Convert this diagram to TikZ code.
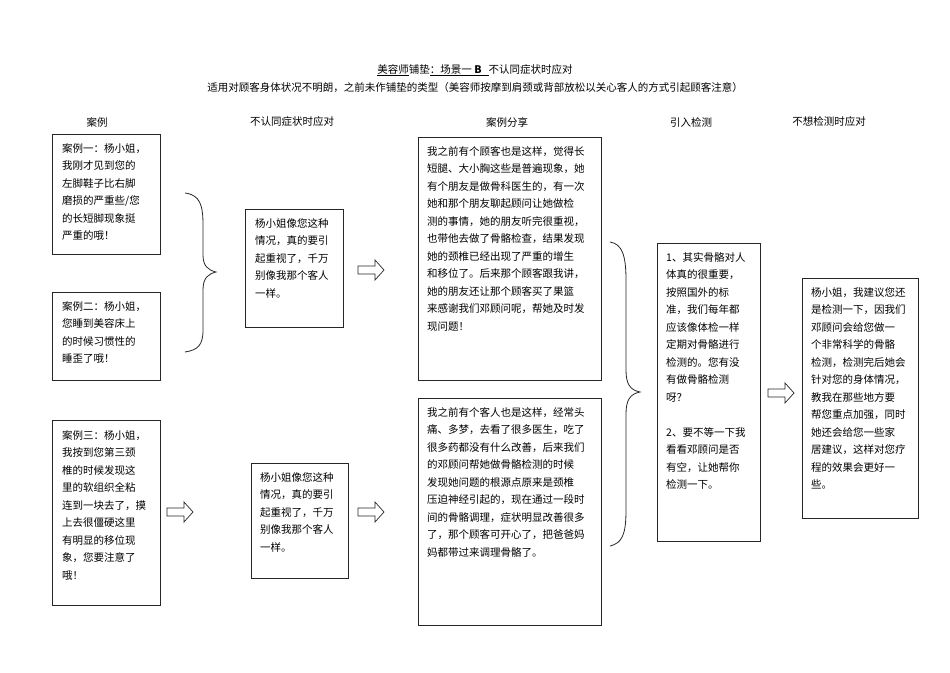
\documentclass[tikz,border=0pt]{standalone}
\usepackage{fontspec}
\setmainfont{Noto Sans CJK SC}
\XeTeXlinebreaklocale "zh"
\begin{document}
\begin{tikzpicture}[x=1pt,y=-1pt,
  box/.style={draw=black!85,line width=0.8pt,anchor=north west,inner sep=0pt},
  txt/.style={anchor=north west,inner sep=0pt,align=left,font=\fontsize{10.5}{17.5}\selectfont},
  hd/.style={font=\fontsize{10.5}{13}\selectfont,inner sep=0pt},
  harrow/.style={draw=black!85,line width=0.7pt,fill=white},
  brace/.style={draw=black!85,line width=0.8pt}]
\useasboundingbox (0,0) rectangle (950,672);
% titles
\node[hd] (t1) at (475,70) {\underline{美容师}铺垫\underline{：场景一 \textbf{B}\ \ \ }不认同症状时应对};
\node[hd] (t2) at (475,88) {适用对顾客身体状况不明朗，之前未作铺垫的类型（美容师按摩到肩颈或背部放松以关心客人的方式引起顾客注意）};
\node[hd] (h1) at (97,122) {案例};
\node[hd] (h2) at (292,122) {不认同症状时应对};
\node[hd] (h3) at (507,122) {案例分享};
\node[hd] (h4) at (691,122) {引入检测};
\node[hd] (h5) at (829,122) {不想检测时应对};
% boxes
\node[box,minimum width=108,minimum height=120] (c1) at (52,134) {};
\node[txt] (c1t) at (62,143) {案例一：杨小姐，\\我刚才见到您的\\左脚鞋子比右脚\\磨损的严重些/您\\的长短脚现象挺\\严重的哦！};
\node[box,minimum width=108,minimum height=88] (c2) at (52,292) {};
\node[txt] (c2t) at (62,301) {案例二：杨小姐，\\您睡到美容床上\\的时候习惯性的\\睡歪了哦！};
\node[box,minimum width=108,minimum height=185] (c3) at (52,420) {};
\node[txt] (c3t) at (62,430) {案例三：杨小姐，\\我按到您第三颈\\椎的时候发现这\\里的软组织全粘\\连到一块去了，摸\\上去很僵硬这里\\有明显的移位现\\象，您要注意了\\哦！};
\node[box,minimum width=98,minimum height=118] (r1) at (245,209) {};
\node[txt] (r1t) at (255,218) {杨小姐像您这种\\情况，真的要引\\起重视了，千万\\别像我那个客人\\一样。};
\node[box,minimum width=97,minimum height=115] (r2) at (251,463) {};
\node[txt] (r2t) at (260,472) {杨小姐像您这种\\情况，真的要引\\起重视了，千万\\别像我那个客人\\一样。};
\node[box,minimum width=183,minimum height=243] (s1) at (418,137) {};
\node[txt] (s1t) at (427,146) {我之前有个顾客也是这样，觉得长\\短腿、大小胸这些是普遍现象，她\\有个朋友是做骨科医生的，有一次\\她和那个朋友聊起顾问让她做检\\测的事情，她的朋友听完很重视，\\也带他去做了骨骼检查，结果发现\\她的颈椎已经出现了严重的增生\\和移位了。后来那个顾客跟我讲，\\她的朋友还让那个顾客买了果篮\\来感谢我们邓顾问呢，帮她及时发\\现问题！};
\node[box,minimum width=183,minimum height=227] (s2) at (418,398) {};
\node[txt] (s2t) at (427,407) {我之前有个客人也是这样，经常头\\痛、多梦，去看了很多医生，吃了\\很多药都没有什么改善，后来我们\\的邓顾问帮她做骨骼检测的时候\\发现她问题的根源点原来是颈椎\\压迫神经引起的，现在通过一段时\\间的骨骼调理，症状明显改善很多\\了，那个顾客可开心了，把爸爸妈\\妈都带过来调理骨骼了。};
\node[box,minimum width=103,minimum height=298] (i1) at (657,243) {};
\node[txt] (i1t) at (666,252) {1、其实骨骼对人\\体真的很重要，\\按照国外的标\\准，我们每年都\\应该像体检一样\\定期对骨骼进行\\检测的。您有没\\有做骨骼检测\\呀？\\[17.5pt]2、要不等一下我\\看看邓顾问是否\\有空，让她帮你\\检测一下。};
\node[box,minimum width=116,minimum height=240] (f1) at (802,278) {};
\node[txt] (f1t) at (811,287) {杨小姐，我建议您还\\是检测一下，因我们\\邓顾问会给您做一\\个非常科学的骨骼\\检测，检测完后她会\\针对您的身体情况，\\教我在那些地方要\\帮您重点加强，同时\\她还会给您一些家\\居建议，这样对您疗\\程的效果会更好一\\些。};
% braces
\draw[brace] (185,193) .. controls (200,195) and (203,205) .. (203,225)
  -- (203,255) .. controls (203,266) and (208,270) .. (216,272)
  .. controls (208,274) and (203,278) .. (203,290)
  -- (203,330) .. controls (203,345) and (198,350) .. (185,352);
\draw[brace] (610,242) .. controls (622,244) and (626,255) .. (626,280)
  -- (626,370) .. controls (626,384) and (630,390) .. (640,392)
  .. controls (630,394) and (626,400) .. (626,414)
  -- (626,510) .. controls (626,535) and (622,543) .. (610,546);
% hollow arrows
\foreach \n/\x/\y in {a1/358/270, a2/167/512, a3/358/512, a4/768/393}{
  \draw[harrow] (\x,\y-4) -- (\x+17,\y-4) -- (\x+17,\y-10) -- (\x+26,\y) -- (\x+17,\y+10) -- (\x+17,\y+4) -- (\x,\y+4) -- cycle;
}
\end{tikzpicture}
\end{document}
